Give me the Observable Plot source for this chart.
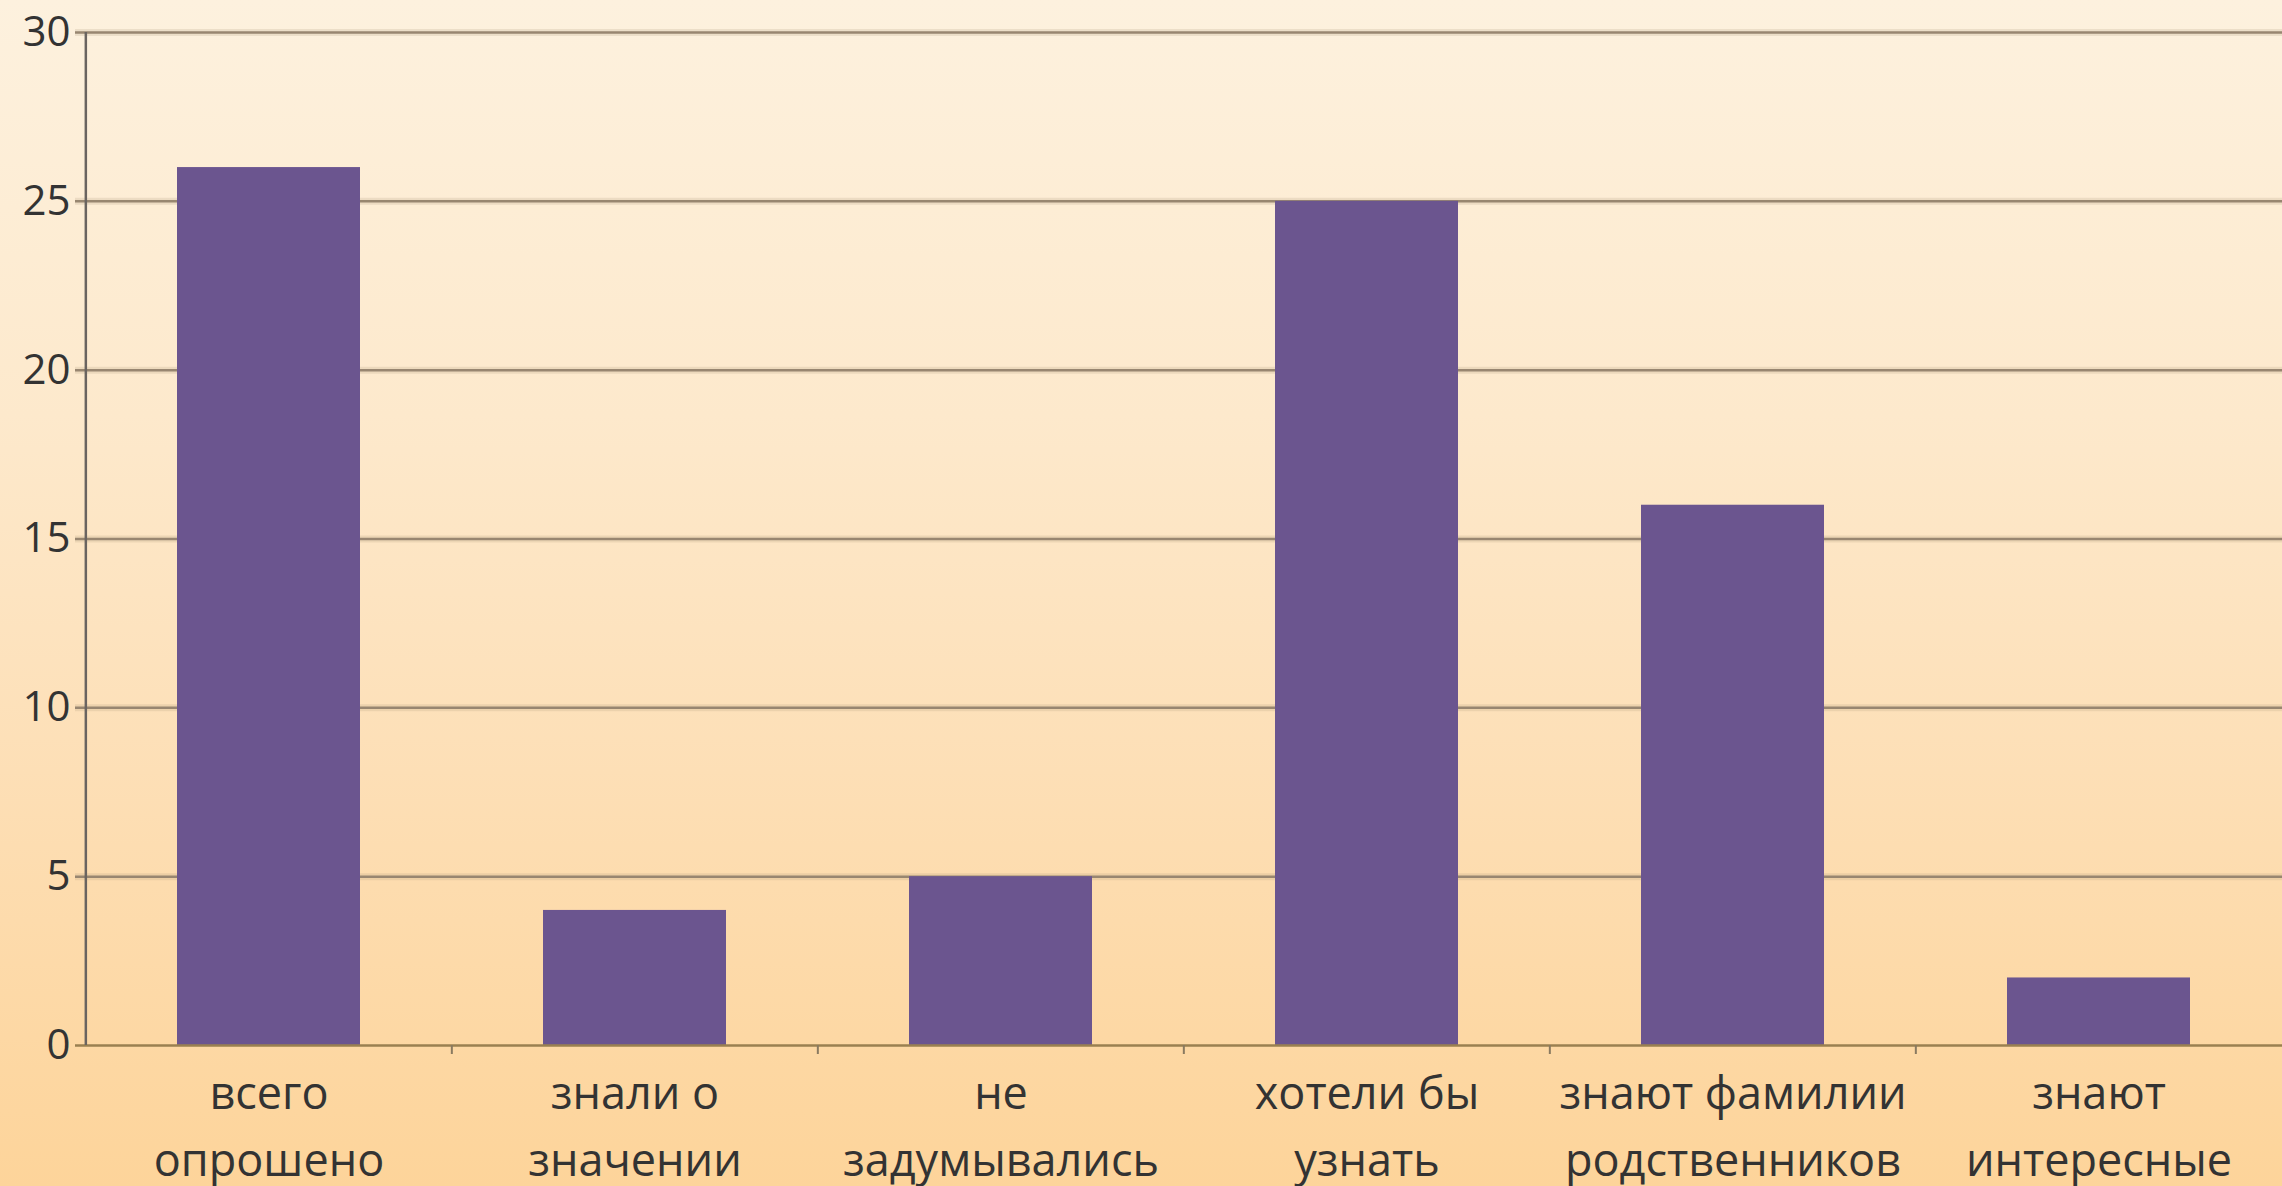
<!DOCTYPE html>
<html>
<head>
<meta charset="utf-8">
<script src="https://cdn.jsdelivr.net/npm/d3@7"></script>
<script src="https://cdn.jsdelivr.net/npm/@observablehq/plot@0.6"></script>
<style>
  html, body { margin: 0; padding: 0; }
  body { width: 2282px; height: 1186px; overflow: hidden;
    background: linear-gradient(to bottom, #fdf1de 0%, #fde9cc 35%, #fddfb6 65%, #fdd49a 100%); }
  svg { display: block; }
</style>
</head>
<body>
<div id="chart"></div>
<script>
const categories = [
  "всего\nопрошено",
  "знали о\nзначении",
  "не\nзадумывались",
  "хотели бы\nузнать",
  "знают фамилии\nродственников",
  "знают\nинтересные"
];
const values = [26, 4, 5, 25, 16, 2];
const yTicks = [0, 5, 10, 15, 20, 25, 30];

const data = categories.map((c, i) => ({category: c, value: values[i]}));

const W = 2282, H = 1186;
const mL = 84, mR = 0, mT = 32, mB = 141;
const step = (W - mL - mR) / categories.length;

const chart = Plot.plot({
  width: W,
  height: H,
  marginLeft: mL,
  marginRight: mR,
  marginTop: mT,
  marginBottom: mB,
  style: {background: "transparent", fontFamily: "'Open Sans', sans-serif", color: "#333"},
  x: {domain: categories, paddingInner: 0.5, paddingOuter: 0.25},
  y: {domain: [0, 30]},
  marks: [
    // gridline glow
    Plot.ruleY(yTicks.filter(d => d > 0), {y: d => d, stroke: "#a8947a", strokeWidth: 7, strokeOpacity: 0.2, insetLeft: -9}),
    Plot.ruleY(yTicks.filter(d => d > 0), {y: d => d, stroke: "#988670", strokeWidth: 2.5, insetLeft: -9}),
    Plot.barY(data, {x: "category", y: "value", fill: "#6b558f"}),
    // x axis baseline
    Plot.ruleY([0], {y: d => d, stroke: "#9a8050", strokeWidth: 2.5, insetLeft: -9}),
    // y axis line
    Plot.ruleX([categories[0]], {x: d => d, dx: -step / 2, y1: 0, y2: 30, stroke: "#6a6460", strokeWidth: 2.5}),
    // category boundary ticks
    Plot.ruleX(categories.slice(1), {x: d => d, dx: -step / 2, y1: 0, y2: 0, insetBottom: -9, stroke: "#8a7a60", strokeWidth: 2}),
    Plot.axisY(yTicks, {tickSize: 0, tickPadding: 14, fontSize: 42, fill: "#333", label: null}),
    Plot.axisX({tickSize: 0, tickPadding: 16, fontSize: 45, lineHeight: 1.49, fill: "#333", label: null})
  ]
});
document.getElementById("chart").appendChild(chart);
</script>
</body>
</html>
